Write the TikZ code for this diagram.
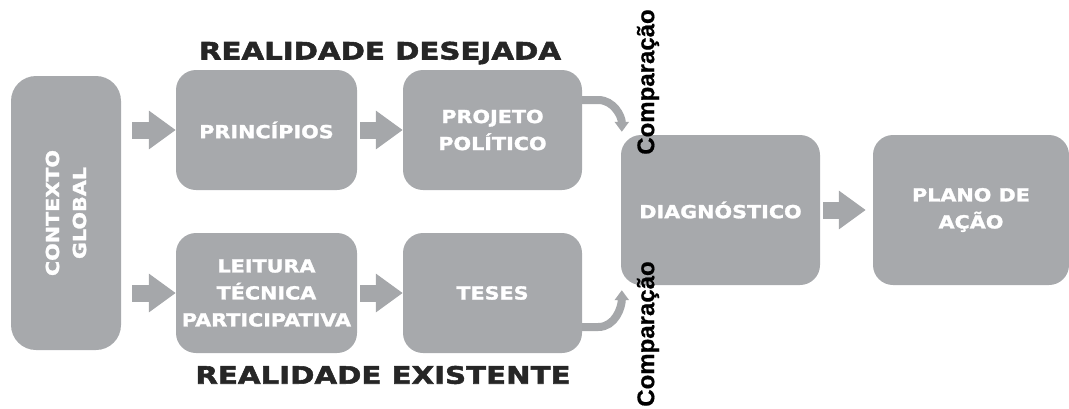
\documentclass[tikz,border=0pt]{standalone}
\usepackage{fontspec}
\usetikzlibrary{arrows.meta, positioning}
\newfontfamily\boxfont[FakeStretch=1.15, FakeBold=1.6]{DejaVu Sans Bold}
\newfontfamily\titlefont[FakeStretch=1.22, FakeBold=2.2]{DejaVu Sans Bold}
\newfontfamily\cmpfont[FakeBold=0.6]{Liberation Sans Bold}
\definecolor{boxgray}{HTML}{A7A9AC}
\definecolor{arrowgray}{HTML}{A5A7AA}
\tikzset{
  stage/.style={
    rectangle,
    rounded corners=20pt,
    fill=boxgray,
    text=white,
    align=center,
    inner sep=0pt,
    font=\boxfont\fontsize{18}{27}\selectfont,
  },
  fat/.style={
    draw=arrowgray, line width=17pt,
    -{Triangle[width=37pt, length=27pt]}
  },
  curvearrow/.style={
    draw=arrowgray, line width=8pt,
    -{Triangle[width=14pt, length=10pt]}
  },
  title/.style={
    text=black!85, font=\titlefont\fontsize{24}{24}\selectfont
  },
  compare/.style={
    rotate=90, font=\cmpfont\fontsize{24}{24}\selectfont
  }
}

\begin{document}
\begin{tikzpicture}[x=1pt, y=-1pt]
  \useasboundingbox (0,0) rectangle (1069,408);
  \node[stage, minimum width=110pt, minimum height=274pt, rounded corners=25pt] (ctx) at (66,213) {};
  \node[stage, fill=none, rotate=90] (ctxtext) at (ctx.center) {CONTEXTO\\GLOBAL};
  \node[stage, minimum width=181pt, minimum height=120pt] (prin) at (266.5,130) {PRINCÍPIOS};
  \node[stage, minimum width=179pt, minimum height=120pt] (proj) at (492.5,130) {PROJETO\\POLÍTICO};
  \node[stage, minimum width=181pt, minimum height=120pt] (lei) at (266.5,293) {LEITURA\\TÉCNICA\\PARTICIPATIVA};
  \node[stage, minimum width=179pt, minimum height=120pt] (teses) at (492.5,293) {TESES};
  \node[stage, minimum width=199pt, minimum height=150pt] (diag) at (720.5,210) {DIAGNÓSTICO};
  \node[stage, minimum width=196pt, minimum height=150pt] (plano) at (971,210) {PLANO DE\\AÇÃO};
  \node[title] (desejada) at (380,53) {REALIDADE DESEJADA};
  \node[title] (existente) at (383,375) {REALIDADE EXISTENTE};
  \node[compare] (cmptop) at (648,82) {Comparação};
  \node[compare] (cmpbot) at (648,334) {Comparação};
  \draw[fat, shorten <=11pt] (ctx.east |- prin.west) -- (prin.west);
  \draw[fat, shorten <=11pt] (ctx.east |- lei.west) -- (lei.west);
  \draw[fat, shorten <=3pt] (prin.east) -- (proj.west);
  \draw[fat, shorten <=3pt] (lei.east) -- (teses.west);
  \draw[fat, shorten <=3pt, shorten >=7pt] (diag.east) -- (plano.west);
  \draw[curvearrow] ([yshift=30pt]proj.east) -- ++(16pt,0) to[out=0, in=90] ([xshift=1pt, yshift=3pt]diag.north west);
  \draw[curvearrow] ([yshift=-34pt]teses.east) -- ++(16pt,0) to[out=0, in=-90] ([xshift=1pt, yshift=-5pt]diag.south west);
\end{tikzpicture}
\end{document}
